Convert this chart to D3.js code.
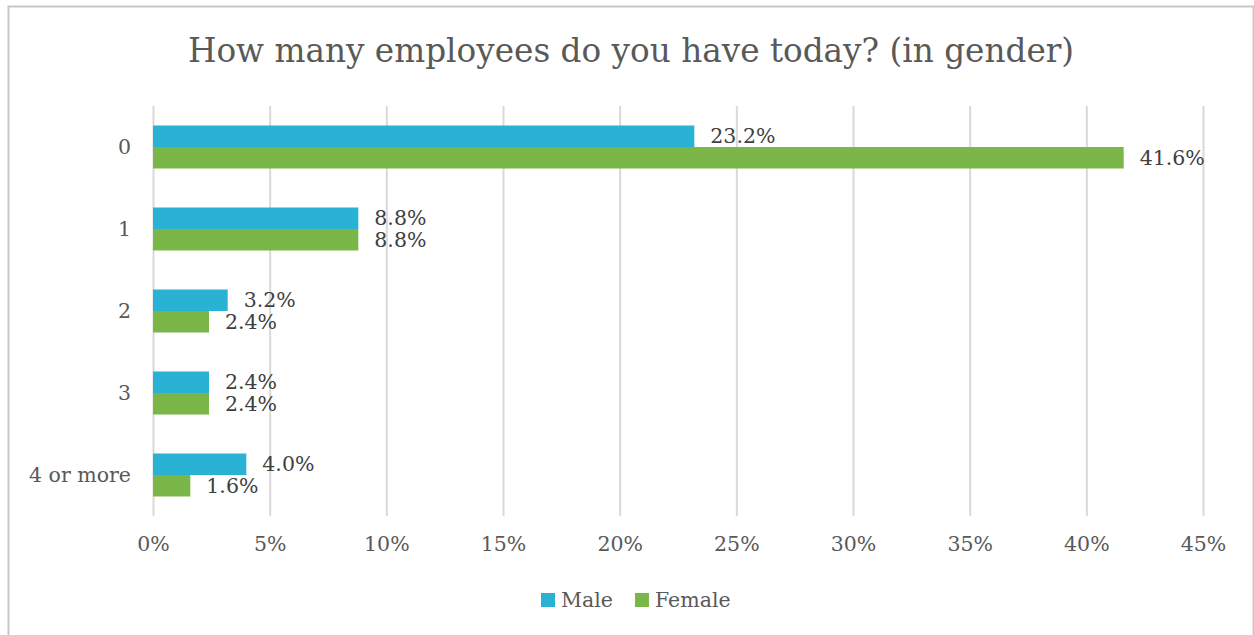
<!DOCTYPE html>
<html>
<head>
<meta charset="utf-8">
<script src="https://cdn.jsdelivr.net/npm/d3@7"></script>
<style>
  html, body { margin: 0; padding: 0; background: #fff; }
  svg { display: block; }
  text { font-family: "DejaVu Serif", "Liberation Serif", serif; }
</style>
</head>
<body>
<svg id="chart" width="1254" height="635"></svg>
<script>
// Survey answers: number of employees, split by gender of respondent
const categories = ["0", "1", "2", "3", "4 or more"];
const seriesNames = ["Male", "Female"];
const maleValues = [23.2, 8.8, 3.2, 2.4, 4.0];
const femaleValues = [41.6, 8.8, 2.4, 2.4, 1.6];
const xTicks = [0, 5, 10, 15, 20, 25, 30, 35, 40, 45];
const colors = ["#29B2D3", "#7AB648"];
const titleText = "How many employees do you have today? (in gender)";

const svg = d3.select("#chart");
const W = 1254, H = 635;
const labelSize = "20.5px";

// chart frame
svg.append("rect")
  .attr("x", 8.5).attr("y", 6.5)
  .attr("width", W - 9).attr("height", H)
  .attr("fill", "#fff")
  .attr("stroke", "#c8c8c8").attr("stroke-width", 2);

const plot = { left: 153, right: 1203, top: 106, bottom: 516 };

const x = d3.scaleLinear().domain([0, 45]).range([plot.left, plot.right]);
const y = d3.scaleBand().domain(categories).range([plot.top, plot.bottom]).paddingInner(0).paddingOuter(0);
const barH = 21.5;
const inner = d3.scaleBand().domain(seriesNames).range([0, barH * 2]);

// title
svg.append("text")
  .attr("x", 631).attr("y", 62)
  .attr("text-anchor", "middle")
  .attr("fill", "#595959")
  .style("font-size", "32.7px")
  .text(titleText);

// vertical gridlines with percentage tick labels
const xAxis = d3.axisBottom(x).tickValues(xTicks).tickFormat(d => d + "%").tickSize(plot.bottom - plot.top).tickPadding(20);
const gx = svg.append("g")
  .attr("transform", `translate(0,${plot.top})`)
  .call(xAxis);
gx.select(".domain").remove();
gx.selectAll(".tick line").attr("stroke", "#d9d9d9").attr("stroke-width", 2);
gx.selectAll(".tick text")
  .attr("fill", "#595959")
  .style("font-size", labelSize)
  .style("font-family", "\"DejaVu Serif\", serif");

// category axis
const yAxis = d3.axisLeft(y).tickSize(0).tickPadding(22);
const gy = svg.append("g").attr("transform", `translate(${plot.left},0)`).call(yAxis);
gy.select(".domain").remove();
gy.selectAll(".tick text")
  .attr("fill", "#595959")
  .style("font-size", labelSize)
  .style("font-family", "\"DejaVu Serif\", serif");

const rows = categories.map((c, i) => ({ cat: c, vals: [maleValues[i], femaleValues[i]] }));

const groups = svg.append("g").selectAll("g")
  .data(rows).join("g")
  .attr("transform", d => `translate(0,${y(d.cat) + y.bandwidth() / 2 - barH})`);

groups.selectAll("rect")
  .data(d => d.vals.map((v, j) => ({ name: seriesNames[j], v, j })))
  .join("rect")
  .attr("x", x(0))
  .attr("y", d => inner(d.name))
  .attr("width", d => x(d.v) - x(0))
  .attr("height", barH)
  .attr("fill", d => colors[d.j]);

groups.selectAll("text.lbl")
  .data(d => d.vals.map((v, j) => ({ name: seriesNames[j], v, j })))
  .join("text")
  .attr("class", "lbl")
  .attr("x", d => x(d.v) + 16)
  .attr("y", d => inner(d.name) + barH / 2)
  .attr("dy", "0.35em")
  .attr("fill", "#404040")
  .style("font-size", labelSize)
  .text(d => d.v.toFixed(1) + "%");

// legend
const legend = svg.append("g");
const legendItems = [{ name: "Male", x: 541 }, { name: "Female", x: 635 }];
legendItems.forEach((it, j) => {
  legend.append("rect")
    .attr("x", it.x).attr("y", 593)
    .attr("width", 14).attr("height", 14)
    .attr("fill", colors[j]);
  legend.append("text")
    .attr("x", it.x + 20).attr("y", 600)
    .attr("dy", "0.35em")
    .attr("fill", "#595959")
    .style("font-size", labelSize)
    .text(it.name);
});
</script>
</body>
</html>
